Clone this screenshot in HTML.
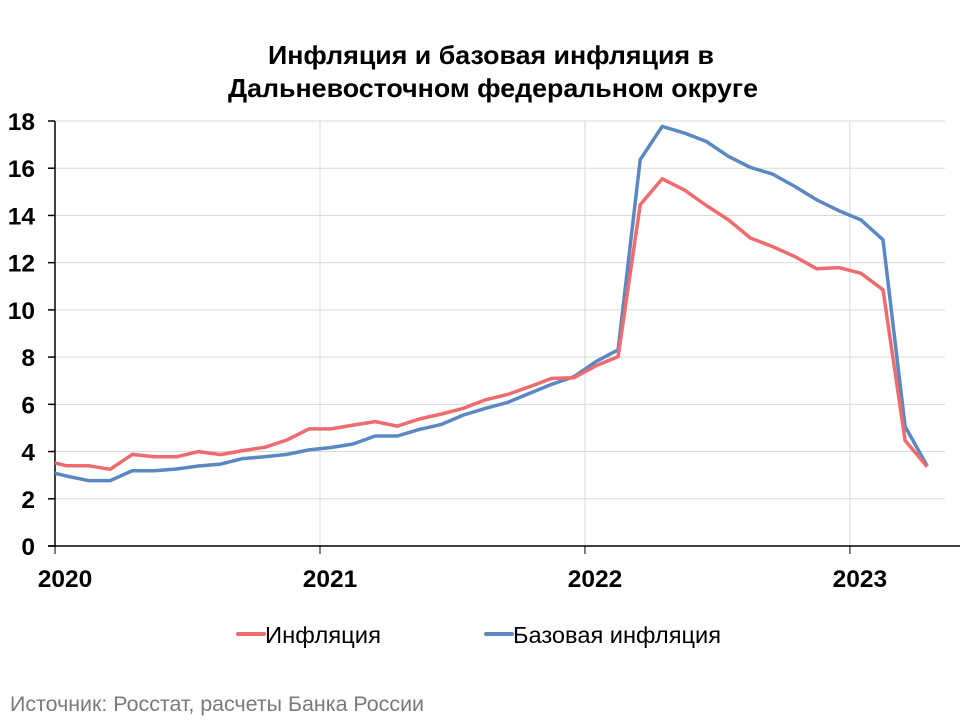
<!DOCTYPE html>
<html><head><meta charset="utf-8"><style>
body{margin:0;background:#fff;}
svg text{font-family:"Liberation Sans",sans-serif;}
</style></head><body>
<svg id="chart" width="960" height="720" viewBox="0 0 960 720" xmlns="http://www.w3.org/2000/svg">
<text x="491" y="64" text-anchor="middle" font-size="26" font-weight="bold" textLength="446" lengthAdjust="spacingAndGlyphs">Инфляция и базовая инфляция в</text>
<text x="493" y="97" text-anchor="middle" font-size="26" font-weight="bold" textLength="530" lengthAdjust="spacingAndGlyphs">Дальневосточном федеральном округе</text>
<defs><clipPath id="plotclip"><rect x="55" y="100" width="900" height="460"/></clipPath></defs>
<g id="grid"></g>
<g id="axes"></g>
<g id="series" clip-path="url(#plotclip)"></g>
<g>
<line x1="238" y1="634" x2="264" y2="634" stroke="#EE6B6E" stroke-width="4" stroke-linecap="round"/>
<text x="265" y="643" font-size="23.5" textLength="116" lengthAdjust="spacingAndGlyphs">Инфляция</text>
<line x1="486" y1="634" x2="512" y2="634" stroke="#5B87C2" stroke-width="4" stroke-linecap="round"/>
<text x="513" y="643" font-size="23.5" textLength="208" lengthAdjust="spacingAndGlyphs">Базовая инфляция</text>
</g>
<text x="10" y="711" font-size="21" fill="#7a7a7a" textLength="414" lengthAdjust="spacingAndGlyphs">Источник: Росстат, расчеты Банка России</text>
</svg>
<script>
const yTicks=[0,2,4,6,8,10,12,14,16,18];
const yearLabels=["2020","2021","2022","2023"];
const inflation=[3.64,3.40,3.40,3.25,3.88,3.78,3.78,4.00,3.87,4.04,4.18,4.49,4.96,4.96,5.12,5.27,5.08,5.38,5.59,5.83,6.19,6.42,6.75,7.10,7.13,7.63,8.02,14.45,15.55,15.08,14.42,13.81,13.04,12.68,12.26,11.74,11.79,11.55,10.85,4.47,3.36];
const coreInflation=[3.19,2.97,2.77,2.77,3.19,3.19,3.26,3.39,3.47,3.70,3.78,3.88,4.07,4.17,4.32,4.66,4.66,4.94,5.15,5.55,5.83,6.08,6.47,6.85,7.17,7.81,8.31,16.36,17.77,17.49,17.13,16.50,16.03,15.75,15.23,14.66,14.20,13.81,12.97,5.06,3.39];
const NS="http://www.w3.org/2000/svg";
const x0=55,yBase=546,yTop=121;
function yScale(v){return yBase-(v/18)*(yBase-yTop);}
function xScale(i){return 44+i*22.08;}
function yearX(j){return xScale(12*j+0.5);}
const grid=document.getElementById('grid'),axes=document.getElementById('axes'),series=document.getElementById('series');
function mk(tag,attrs,parent){const e=document.createElementNS(NS,tag);for(const k in attrs)e.setAttribute(k,attrs[k]);parent.appendChild(e);return e;}
yTicks.forEach((t)=>{
 const y=yScale(t);
 if(t>0){const g=mk('line',{x1:x0,x2:945,y1:y,y2:y,stroke:'#d9d9d9','stroke-width':1},grid);
 
 }
 const tk=mk('line',{x1:48,x2:55,y1:y,y2:y,stroke:'#000','stroke-width':1.5},axes);
 
 
 const lb=mk('text',{x:35,y:y+9,'text-anchor':'end','font-size':24.5,'font-weight':'bold'},axes);
 
 
 lb.textContent=t;
});
yearLabels.forEach((l,j)=>{
 const x=yearX(j);
 if(j>0){const g=mk('line',{x1:x,x2:x,y1:yTop,y2:yBase,stroke:'#d9d9d9','stroke-width':1},grid);
 
 }
 const tk=mk('line',{x1:x,x2:x,y1:yBase,y2:yBase+8,stroke:'#000','stroke-width':1},axes);
 
 
 const lb=mk('text',{x:x+10,y:587,'text-anchor':'middle','font-size':24.5,'font-weight':'bold'},axes);
 
 
 lb.textContent=l;
});
const ya=mk('line',{x1:x0,x2:x0,y1:yTop,y2:yBase,stroke:'#000','stroke-width':1.5},axes);


const xa=mk('line',{x1:48,x2:960,y1:yBase,y2:yBase,stroke:'#000','stroke-width':1.5},axes);


function drawLine(arr,color,name){
 const pts=arr.map((v,i)=>xScale(i).toFixed(1)+','+yScale(v).toFixed(1)).join(' ');
 const p=mk('polyline',{points:pts,fill:'none',stroke:color,'stroke-width':3.5,'stroke-linejoin':'round'},series);
 
 
}
drawLine(coreInflation,'#5B87C2','core-inflation-line');
drawLine(inflation,'#EE6B6E','inflation-line');
</script>
</body></html>
